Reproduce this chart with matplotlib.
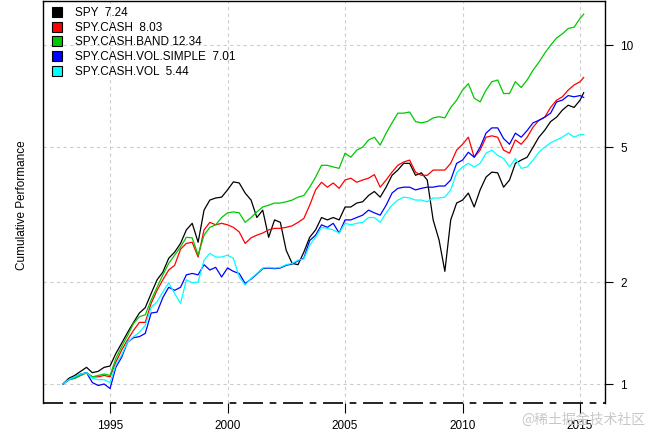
import numpy as np
import pandas as pd
import matplotlib
matplotlib.use("Agg")
import matplotlib.pyplot as plt
from matplotlib.lines import Line2D

plt.rcParams['font.family'] = ['Liberation Sans', 'DejaVu Sans']

dates = list(pd.date_range("1993-01-01", "2015-01-01", freq="QS")) + [pd.Timestamp("2015-02-27")]

spy = [1.00, 1.04, 1.06, 1.09, 1.12, 1.08, 1.09, 1.12, 1.13, 1.23, 1.32, 1.42,
       1.52, 1.62, 1.68, 1.85, 2.03, 2.14, 2.35, 2.45, 2.60, 2.85, 2.98, 2.62,
       3.26, 3.49, 3.54, 3.56, 3.74, 3.95, 3.92, 3.66, 3.49, 3.10, 3.26, 2.71,
       3.05, 3.00, 2.48, 2.27, 2.25, 2.45, 2.71, 2.85, 3.10, 3.05, 3.10, 3.05,
       3.33, 3.33, 3.42, 3.45, 3.60, 3.70, 3.56, 3.81, 4.13, 4.28, 4.48, 4.48,
       4.13, 4.20, 4.00, 3.05, 2.66, 2.15, 3.05, 3.42, 3.49, 3.66, 3.33, 3.74,
       4.08, 4.22, 4.20, 3.81, 4.00, 4.48, 4.58, 4.67, 5.00, 5.35, 5.61, 5.95,
       6.13, 6.43, 6.65, 6.55, 6.88, 7.24]

spy_cash = [1.00, 1.03, 1.04, 1.06, 1.08, 1.05, 1.05, 1.06, 1.05, 1.16, 1.26, 1.35,
            1.44, 1.52, 1.52, 1.73, 1.89, 2.03, 2.17, 2.24, 2.50, 2.60, 2.62, 2.37,
            2.85, 3.00, 2.95, 2.98, 2.95, 2.90, 2.81, 2.60, 2.70, 2.75, 2.79, 2.85,
            2.88, 2.88, 2.90, 2.93, 3.00, 3.08, 3.37, 3.74, 3.94, 3.81, 3.92, 3.78,
            4.00, 4.05, 3.94, 4.00, 4.05, 4.15, 3.81, 4.00, 4.22, 4.42, 4.52, 4.58,
            4.22, 4.13, 4.13, 4.28, 4.28, 4.28, 4.48, 4.90, 5.10, 5.35, 4.67, 4.90,
            5.35, 5.40, 5.35, 4.90, 4.80, 5.25, 5.10, 5.35, 5.73, 6.00, 6.13, 6.55,
            6.88, 7.04, 7.37, 7.63, 7.80, 8.03]

spy_cash_band = [1.00, 1.03, 1.04, 1.06, 1.08, 1.05, 1.06, 1.07, 1.06, 1.19, 1.29, 1.39,
                 1.51, 1.58, 1.60, 1.77, 1.93, 2.10, 2.27, 2.40, 2.54, 2.71, 2.70, 2.40,
                 2.75, 2.90, 2.95, 3.10, 3.20, 3.22, 3.20, 3.00, 3.10, 3.22, 3.33, 3.37,
                 3.42, 3.42, 3.45, 3.49, 3.56, 3.60, 3.81, 4.08, 4.42, 4.42, 4.37, 4.33,
                 4.80, 4.67, 4.90, 5.00, 5.25, 5.35, 5.07, 5.50, 5.90, 6.30, 6.30, 6.35,
                 5.95, 5.90, 5.95, 6.10, 6.15, 6.10, 6.55, 6.88, 7.37, 7.70, 6.98, 6.80,
                 7.37, 7.80, 7.89, 7.20, 7.20, 7.80, 7.50, 7.89, 8.44, 8.90, 9.47, 10.0,
                 10.5, 10.8, 11.2, 11.3, 12.0, 12.34]

spy_cash_vol_simple = [1.00, 1.03, 1.05, 1.07, 1.08, 1.01, 0.99, 1.00, 0.97, 1.12, 1.20, 1.33,
                       1.37, 1.38, 1.41, 1.62, 1.63, 1.80, 1.93, 1.89, 1.93, 2.10, 2.12, 2.10,
                       2.25, 2.17, 2.21, 2.07, 2.20, 2.15, 2.12, 1.98, 2.04, 2.11, 2.19, 2.20,
                       2.19, 2.20, 2.24, 2.26, 2.31, 2.35, 2.65, 2.75, 2.95, 2.90, 2.98, 2.79,
                       3.05, 3.05, 3.10, 3.15, 3.26, 3.20, 3.15, 3.37, 3.66, 3.78, 3.81, 3.81,
                       3.74, 3.78, 3.81, 3.81, 3.84, 3.84, 4.00, 4.48, 4.58, 4.83, 4.67, 5.00,
                       5.50, 5.70, 5.70, 5.30, 5.10, 5.50, 5.35, 5.60, 5.90, 6.00, 6.13, 6.30,
                       6.80, 6.88, 7.10, 7.04, 7.10, 7.01]

spy_cash_vol = [1.00, 1.03, 1.05, 1.07, 1.08, 1.04, 1.03, 1.03, 1.01, 1.14, 1.22, 1.33,
                1.38, 1.42, 1.49, 1.68, 1.75, 1.87, 1.99, 1.85, 1.73, 2.03, 1.99, 2.00,
                2.32, 2.43, 2.37, 2.37, 2.40, 2.35, 2.07, 1.96, 2.05, 2.12, 2.20, 2.21,
                2.20, 2.21, 2.25, 2.27, 2.32, 2.34, 2.57, 2.71, 2.90, 2.88, 2.85, 2.79,
                2.98, 2.95, 2.98, 3.00, 3.10, 3.10, 3.00, 3.20, 3.37, 3.49, 3.56, 3.54,
                3.49, 3.49, 3.45, 3.54, 3.54, 3.56, 3.74, 4.20, 4.37, 4.48, 4.37, 4.48,
                4.80, 4.90, 4.73, 4.63, 4.37, 4.63, 4.33, 4.37, 4.58, 4.83, 5.00, 5.15,
                5.25, 5.35, 5.50, 5.35, 5.45, 5.44]

names = ["SPY", "SPY.CASH", "SPY.CASH.BAND", "SPY.CASH.VOL.SIMPLE", "SPY.CASH.VOL"]
series = [spy, spy_cash, spy_cash_band, spy_cash_vol_simple, spy_cash_vol]
colors = ["black", "#ff0000", "#00c800", "#0000ff", "#00ffff"]

year_ticks = [1995, 2000, 2005, 2010, 2015]
y_ticks = [1, 2, 5, 10]

fig = plt.figure(figsize=(6.48, 4.32), dpi=100)
ax = fig.add_axes([43 / 648, 1 - 403 / 432, 562 / 648, 402 / 432])

for vals, col in zip(series, colors):
    ax.plot(dates, vals, color=col, lw=0.9)

ax.set_yscale('log')
ax.set_ylim(0.879, 13.5)
ax.set_xlim(pd.Timestamp("1992-02-24"), pd.Timestamp("2016-01-24"))

xt = [pd.Timestamp(f"{y}-01-01") for y in year_ticks]
ax.set_xticks(xt)
ax.set_xticklabels([str(y) for y in year_ticks])
ax.set_yticks(y_ticks)
ax.set_yticklabels([str(v) for v in y_ticks])
ax.yaxis.set_minor_locator(plt.NullLocator())
ax.yaxis.tick_right()
ax.tick_params(axis='y', length=6, width=0.8, pad=5, labelsize=8.5, colors='black')
ax.tick_params(axis='x', length=7, width=0.8, pad=5, labelsize=8.5)

ax.grid(True, color='#cccccc', lw=0.8, linestyle=(0, (3, 3)))
ax.set_axisbelow(True)

for side in ['top', 'left', 'right']:
    ax.spines[side].set_linewidth(1.0)
ax.spines['bottom'].set_visible(False)
ax.plot([0, 1], [0, 0], transform=ax.transAxes, color='black', lw=1.2,
        dashes=[12, 4, 4, 4], clip_on=False)

handles = [Line2D([], [], linestyle='none', marker='s', markersize=7,
                  markerfacecolor=c, markeredgecolor='black', markeredgewidth=0.8)
           for c in colors]
labels = [f"{n} {v[-1]:5.2f}" for n, v in zip(names, series)]
fig.legend(handles, labels, loc='upper left', bbox_to_anchor=(51 / 648, 1 - 7 / 432),
           frameon=False, fontsize=8.5, handlelength=1.0, handletextpad=1.0,
           labelspacing=0.23, borderpad=0, borderaxespad=0)

fig.text(22 / 648, 1 - 205 / 432, "Cumulative Performance", rotation=90,
         ha='center', va='center', fontsize=8.5)

fig.text(645 / 648, 1 - 420 / 432, "@稀土掘金技术社区", ha='right', va='center',
         fontsize=10, color='#c8c8c8', family=['Noto Sans CJK SC', 'DejaVu Sans'])

fig.savefig("out.png", dpi=100)
